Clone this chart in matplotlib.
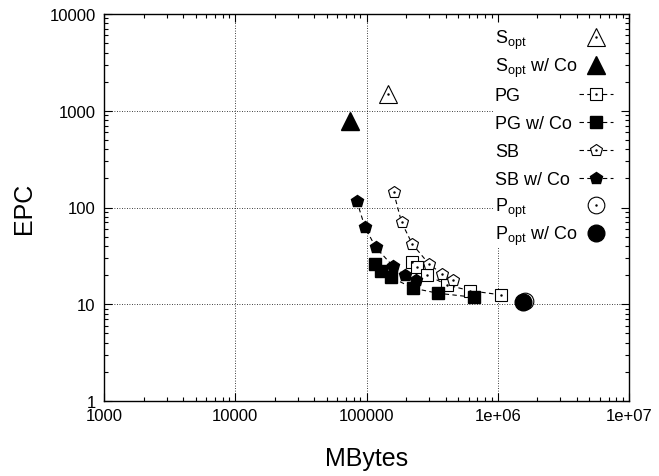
import numpy as np
import matplotlib
matplotlib.use('Agg')
import matplotlib.pyplot as plt
from matplotlib.patches import Rectangle
from matplotlib.legend import Legend
from matplotlib import ticker

plt.rcParams['font.family'] = ['Liberation Sans', 'DejaVu Sans']
plt.rcParams['mathtext.fontset'] = 'custom'
plt.rcParams['mathtext.rm'] = 'Liberation Sans'
plt.rcParams['mathtext.it'] = 'Liberation Sans:italic'

# data (MBytes, EPC)
s_opt_x = [146000]
s_opt_y = [1490]
s_opt_co_x = [74800]
s_opt_co_y = [783]
pg_x = [221000, 241000, 288000, 413000, 615000, 1060000]
pg_y = [27.5, 24.1, 20.0, 15.8, 13.8, 12.5]
pg_co_x = [116000, 129000, 154000, 225000, 349000, 663000]
pg_co_y = [26.1, 22.2, 19.0, 14.7, 13.0, 11.8]
sb_x = [161000, 185000, 223000, 299000, 378000, 454000]
sb_y = [143.6, 70.4, 42.0, 26.1, 20.5, 17.9]
sb_co_x = [84200, 97400, 117500, 158000, 196500, 237000]
sb_co_y = [117.6, 62.4, 38.8, 25.0, 20.0, 17.9]
p_opt_x = [1610000]
p_opt_y = [10.9]
p_opt_co_x = [1550000]
p_opt_co_y = [10.5]

x_ticks = [1e3, 1e4, 1e5, 1e6, 1e7]
x_labels = ['1000', '10000', '100000', '1e+06', '1e+07']
y_ticks = [1, 10, 100, 1000, 10000]
y_labels = ['1', '10', '100', '1000', '10000']

W, H = 659, 477
fig = plt.figure(figsize=(W/100, H/100), dpi=100)
ax = fig.add_axes([104/W, 75/H, 525/W, 387/H])
ax.set_xscale('log')
ax.set_yscale('log')
ax.set_xlim(1e3, 1e7)
ax.set_ylim(1, 1e4)

# grid (dotted, major only)
for v in x_ticks[1:-1]:
    ax.axvline(v, color='black', lw=0.6, ls=(0, (1, 2)), zorder=0.5)
for v in y_ticks[1:-1]:
    ax.axhline(v, color='black', lw=0.6, ls=(0, (1, 2)), zorder=0.5)

# key area is opaque
ax.add_patch(Rectangle((0.741, 0.398), 0.259, 0.602, transform=ax.transAxes,
                       fc='white', ec='none', zorder=1))

dash = dict(color='black', lw=0.8, ls='--', dashes=(4, 3))
dot = dict(ls='none', marker='.', ms=1.5, color='black')

h1, = ax.plot(s_opt_x, s_opt_y, ls='none', marker='^', ms=13, mfc='white', mec='black', mew=0.8)
d1, = ax.plot(s_opt_x, s_opt_y, **dot)
h2, = ax.plot(s_opt_co_x, s_opt_co_y, ls='none', marker='^', ms=13, color='black')
h3, = ax.plot(pg_x, pg_y, marker='s', ms=8.6, mfc='white', mec='black', mew=0.8, **dash)
d3, = ax.plot(pg_x, pg_y, **dot)
h4, = ax.plot(pg_co_x, pg_co_y, marker='s', ms=8.6, mfc='black', mec='black', **dash)
h5, = ax.plot(sb_x, sb_y, marker='p', ms=9, mfc='white', mec='black', mew=0.8, **dash)
d5, = ax.plot(sb_x, sb_y, **dot)
h6, = ax.plot(sb_co_x, sb_co_y, marker='p', ms=9, mfc='black', mec='black', **dash)
h7, = ax.plot(p_opt_x, p_opt_y, ls='none', marker='o', ms=12, mfc='white', mec='black', mew=0.8)
d7, = ax.plot(p_opt_x, p_opt_y, **dot)
h8, = ax.plot(p_opt_co_x, p_opt_co_y, ls='none', marker='o', ms=12, color='black')

handles = [(h1, d1), h2, (h3, d3), h4, (h5, d5), h6, (h7, d7), h8]
labels = [r'S$_{\mathrm{opt}}$', r'S$_{\mathrm{opt}}$ w/ Co', 'PG', 'PG w/ Co',
          'SB', 'SB w/ Co', r'P$_{\mathrm{opt}}$', r'P$_{\mathrm{opt}}$ w/ Co']

# gnuplot-like key: one row per entry at a fixed pitch, text left, sample right
for i, (h, lab) in enumerate(zip(handles, labels)):
    ypix = 15 + 25.5 + 28 * i
    leg = Legend(ax, [h], [lab], loc='center right',
                 bbox_to_anchor=(1 - 16/525, 1 - (ypix - 15)/387),
                 frameon=False, markerfirst=False, handlelength=1.9, handletextpad=0.3,
                 fontsize=13, borderpad=0, borderaxespad=0)
    leg.set_zorder(3)
    for col in leg._legend_handle_box.get_children():
        for row in col.get_children():
            row.mode = 'expand'
            row.width = 118
    ax.add_artist(leg)

# minor ticks at 2..9 of every decade
x_minor = [m * 10.0**e for e in range(3, 7) for m in range(2, 10)]
y_minor = [m * 10.0**e for e in range(0, 4) for m in range(2, 10)]

ax.xaxis.set_major_locator(ticker.FixedLocator(x_ticks))
ax.xaxis.set_major_formatter(ticker.FixedFormatter(x_labels))
ax.yaxis.set_major_locator(ticker.FixedLocator(y_ticks))
ax.yaxis.set_major_formatter(ticker.FixedFormatter(y_labels))
ax.xaxis.set_minor_locator(ticker.FixedLocator(x_minor))
ax.yaxis.set_minor_locator(ticker.FixedLocator(y_minor))
ax.xaxis.set_minor_formatter(ticker.NullFormatter())
ax.yaxis.set_minor_formatter(ticker.NullFormatter())
ax.tick_params(which='both', direction='in', top=True, right=True, labelsize=12,
               width=0.8, color='black')
ax.tick_params(which='major', length=5.5)
ax.tick_params(which='minor', length=2.8)
ax.tick_params(axis='x', pad=5)
ax.tick_params(axis='y', pad=6)
for s in ax.spines.values():
    s.set_linewidth(1.0)

ax.set_xlabel('MBytes', fontsize=18)
ax.set_ylabel('EPC', fontsize=18)
ax.xaxis.set_label_coords(0.5, -0.115)
ax.yaxis.set_label_coords(-0.13, 0.5)

fig.savefig('out.png', dpi=100)
